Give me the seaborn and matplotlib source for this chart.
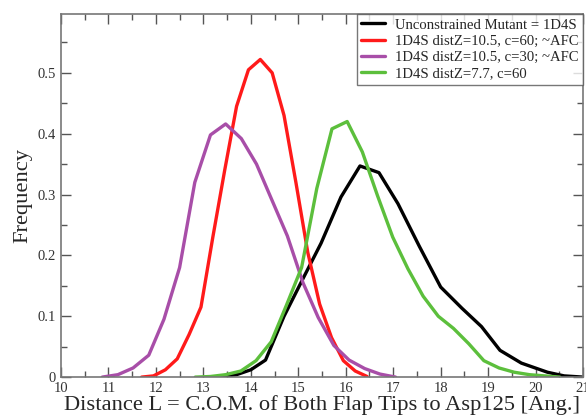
import numpy as np
import pandas as pd
import matplotlib
matplotlib.use("Agg")
import matplotlib.pyplot as plt
import seaborn as sns

# distance L (Ang.) and frequency for each simulation
black_x = [13.3, 13.7, 14.0, 14.31, 14.7, 15.12, 15.48, 15.9, 16.3, 16.7,
           17.1, 17.55, 18.0, 18.45, 18.86, 19.25, 19.7, 20.25, 20.6, 21.0]
black_y = [0.0, 0.004, 0.012, 0.028, 0.1, 0.165, 0.22, 0.296, 0.347, 0.336,
           0.285, 0.215, 0.148, 0.113, 0.083, 0.044, 0.023, 0.008, 0.002, 0.0]

red_x = [11.7, 11.95, 12.2, 12.45, 12.7, 12.95, 13.2, 13.45, 13.7, 13.95,
         14.2, 14.45, 14.7, 14.95, 15.2, 15.45, 15.7, 15.95, 16.2, 16.45]
red_y = [0.0, 0.002, 0.012, 0.03, 0.07, 0.115, 0.23, 0.34, 0.445, 0.505,
         0.522, 0.5, 0.43, 0.32, 0.205, 0.12, 0.065, 0.027, 0.01, 0.001]

purple_x = [10.87, 11.2, 11.52, 11.85, 12.17, 12.5, 12.82, 13.15, 13.47, 13.8,
            14.12, 14.45, 14.77, 15.1, 15.42, 15.75, 16.07, 16.4, 16.72, 17.05]
purple_y = [0.0, 0.004, 0.015, 0.036, 0.095, 0.18, 0.32, 0.398, 0.416, 0.392,
            0.35, 0.29, 0.232, 0.155, 0.098, 0.052, 0.028, 0.014, 0.005, 0.0]

green_x = [12.83, 13.15, 13.47, 13.79, 14.11, 14.43, 14.75, 15.07, 15.39, 15.71,
           16.03, 16.35, 16.67, 16.99, 17.31, 17.63, 17.95, 18.27, 18.59, 18.91,
           19.23, 19.55, 19.87, 20.19, 20.51]
green_y = [0.0, 0.001, 0.004, 0.01, 0.027, 0.058, 0.118, 0.18, 0.31, 0.408,
           0.42, 0.37, 0.298, 0.23, 0.178, 0.133, 0.1, 0.08, 0.055, 0.027,
           0.015, 0.008, 0.004, 0.002, 0.0]

labels = ["Unconstrained Mutant = 1D4S",
          "1D4S distZ=10.5, c=60; ~AFC",
          "1D4S distZ=10.5, c=30; ~AFC",
          "1D4S distZ=7.7, c=60"]
colors = ["#000000", "#ff1a1a", "#a84ea8", "#5cbf3c"]

xticks = list(range(10, 22))
yticks = [0, 0.1, 0.2, 0.3, 0.4, 0.5]
ytick_labels = ["0", "0.1", "0.2", "0.3", "0.4", "0.5"]

frames = []
for lab, xs, ys in zip(labels, [black_x, red_x, purple_x, green_x],
                       [black_y, red_y, purple_y, green_y]):
    frames.append(pd.DataFrame({"L": xs, "freq": ys, "run": lab}))
df = pd.concat(frames, ignore_index=True)

sns.set_style("ticks")
plt.rcParams["font.family"] = ["Liberation Serif", "DejaVu Serif"]

fig = plt.figure(figsize=(5.86, 4.19), dpi=100)
ax = fig.add_axes([0.104, 0.1, 0.891, 0.867])

sns.lineplot(data=df, x="L", y="freq", hue="run", hue_order=labels,
             palette=colors, linewidth=2.4, sort=False, estimator=None, ax=ax)

ax.set_xlim(10, 21)
ax.set_ylim(0, 0.597)
ax.set_xticks(xticks)
ax.set_xticklabels([str(t) for t in xticks])
ax.set_xticks(np.arange(10.5, 21, 1.0), minor=True)
ax.set_yticks(yticks)
ax.set_yticklabels(ytick_labels)
ax.set_yticks(np.arange(0.05, 0.6, 0.1), minor=True)

ax.tick_params(which="both", direction="in", top=True, right=True,
               colors="#555555", labelcolor="#333333", labelsize=10.5)
ax.tick_params(which="major", length=7, width=1)
ax.tick_params(which="minor", length=4, width=1)
for s in ax.spines.values():
    s.set_color("#777777")
    s.set_linewidth(1.2)

ax.set_xlabel("Distance L = C.O.M. of Both Flap Tips to Asp125 [Ang.]",
              fontsize=16.2, labelpad=0)
ax.set_ylabel("Frequency", fontsize=16.2, labelpad=4)

leg = ax.legend(loc="upper right", fontsize=10.6, frameon=True, fancybox=False,
                edgecolor="#555555", handlelength=1.6, borderaxespad=0.0,
                labelspacing=0.2, borderpad=0.3, handletextpad=0.7)
leg.get_frame().set_linewidth(1.0)

fig.savefig("out.png", dpi=100)
